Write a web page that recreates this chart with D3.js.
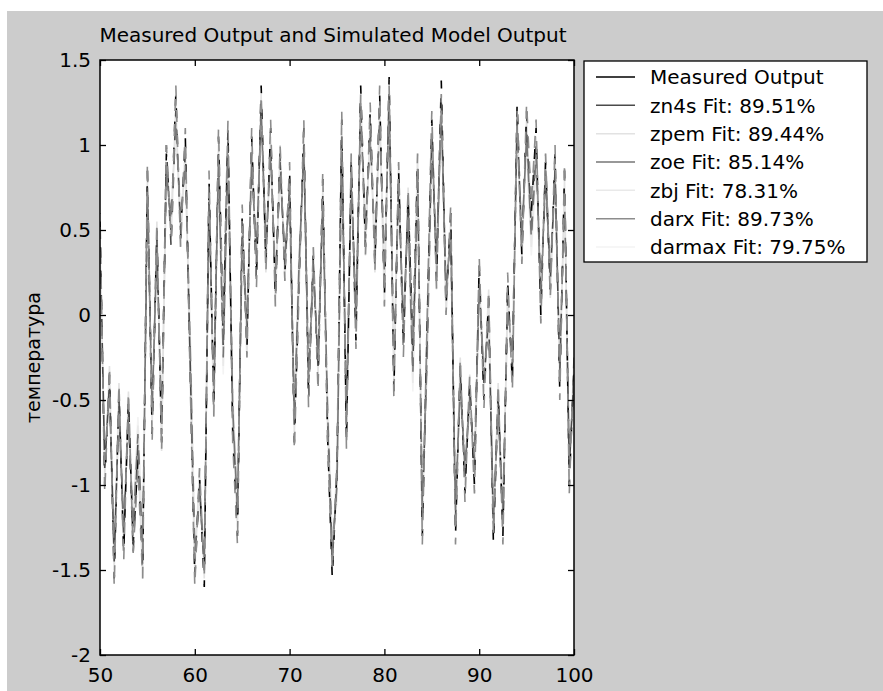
<!DOCTYPE html>
<html>
<head>
<meta charset="utf-8">
<script src="https://cdn.jsdelivr.net/npm/d3@7/dist/d3.min.js"></script>
<style>
  html, body { margin: 0; padding: 0; background: #ffffff; }
  svg { display: block; }
  text { font-family: "DejaVu Sans", sans-serif; fill: #000; }
</style>
</head>
<body>
<svg id="chart" width="883" height="691"></svg>
<script>
// Sample grid of the compared data set
const t0 = 50;
const dt = 0.5;

// Measured temperature
const measured = [
  0.55,-1.0,-0.35,-1.55,-0.45,-1.4,-0.5,-1.35,-0.85,-1.5,
  0.85,-0.7,0.5,-0.75,0.95,0.5,1.3,0.45,1.05,-0.3,
  -1.55,-0.95,-1.6,0.8,-0.55,1.05,-0.1,1.1,-0.7,-1.3,
  0.6,-0.2,1.05,0.2,1.35,0.3,1.1,0.1,0.95,0.25,
  0.85,-0.75,0.2,1.1,-0.5,0.35,-0.4,0.8,-0.7,-1.55,
  -0.9,1.15,-0.75,0.9,-0.15,1.35,0.4,1.2,0.3,1.3,
  0.1,1.4,-0.45,0.85,-0.2,0.7,-0.2,0.9,-1.3,-0.1,
  1.15,0.2,1.38,0.05,0.6,-1.3,-0.3,-1.05,-0.4,-1.0,
  0.3,-0.5,0.1,-1.35,-0.45,-1.3,0.2,-0.4,1.25,0.35,
  1.2,0.6,1.1,0.0,0.9,0.15,0.95,-0.45,0.85,-1.0,
  -0.3
];

// Simulated outputs of the identified models
const zn4s = [
  0.5,-0.9,-0.4,-1.45,-0.5,-1.3,-0.55,-1.4,-0.75,-1.45,
  0.75,-0.6,0.45,-0.7,1.0,0.4,1.2,0.5,0.95,-0.25,
  -1.45,-1.0,-1.5,0.7,-0.5,0.95,-0.2,1.0,-0.6,-1.2,
  0.5,-0.1,0.95,0.3,1.25,0.35,1.0,0.15,0.9,0.3,
  0.75,-0.65,0.25,1.0,-0.4,0.3,-0.3,0.7,-0.6,-1.45,
  -0.95,1.05,-0.65,0.85,-0.05,1.25,0.45,1.1,0.35,1.2,
  0.2,1.3,-0.35,0.8,-0.1,0.65,-0.3,0.85,-1.2,-0.2,
  1.05,0.3,1.25,0.1,0.5,-1.2,-0.35,-0.95,-0.45,-0.9,
  0.2,-0.4,0.0,-1.25,-0.5,-1.2,0.1,-0.3,1.15,0.4,
  1.1,0.5,1.0,0.1,0.85,0.2,0.85,-0.35,0.75,-0.9,
  -0.35
];
const zpem = [
  0.45,-0.95,-0.3,-1.5,-0.4,-1.35,-0.45,-1.3,-0.8,-1.55,
  0.8,-0.65,0.55,-0.8,0.9,0.45,1.25,0.4,1.0,-0.35,
  -1.5,-0.9,-1.55,0.75,-0.6,1.0,-0.05,1.05,-0.65,-1.25,
  0.55,-0.25,1.0,0.25,1.3,0.25,1.05,0.05,1.0,0.2,
  0.8,-0.7,0.15,1.05,-0.45,0.4,-0.35,0.75,-0.65,-1.5,
  -0.85,1.1,-0.7,0.95,-0.1,1.3,0.35,1.15,0.25,1.25,
  0.05,1.35,-0.4,0.9,-0.15,0.75,-0.25,0.95,-1.25,-0.05,
  1.1,0.15,1.3,0.0,0.55,-1.25,-0.25,-1.0,-0.35,-1.05,
  0.25,-0.45,0.15,-1.3,-0.4,-1.25,0.15,-0.35,1.2,0.3,
  1.15,0.55,1.05,-0.05,0.95,0.1,0.9,-0.4,0.8,-0.95,
  -0.25
];
const zoe = [
  0.4,-0.85,-0.45,-1.4,-0.55,-1.25,-0.6,-1.25,-0.7,-1.4,
  0.7,-0.55,0.4,-0.65,0.85,0.55,1.15,0.55,0.9,-0.15,
  -1.4,-1.05,-1.45,0.65,-0.45,0.9,-0.25,0.95,-0.55,-1.15,
  0.45,-0.05,0.9,0.35,1.2,0.4,0.95,0.2,0.85,0.35,
  0.7,-0.6,0.3,0.95,-0.35,0.25,-0.25,0.65,-0.55,-1.4,
  -1.0,1.0,-0.6,0.8,0.0,1.2,0.5,1.05,0.4,1.15,
  0.25,1.25,-0.3,0.75,-0.05,0.6,-0.35,0.8,-1.15,-0.25,
  1.0,0.35,1.2,0.15,0.45,-1.15,-0.4,-0.9,-0.5,-0.85,
  0.15,-0.35,-0.05,-1.2,-0.55,-1.15,0.05,-0.25,1.1,0.45,
  1.05,0.45,0.95,0.15,0.8,0.25,0.8,-0.3,0.7,-0.85,
  -0.4
];
const zbj = [
  0.35,-0.8,-0.5,-1.35,-0.6,-1.2,-0.65,-1.2,-0.65,-1.35,
  0.65,-0.5,0.35,-0.6,0.8,0.6,1.1,0.6,0.85,-0.1,
  -1.35,-1.1,-1.4,0.6,-0.4,0.85,-0.3,0.9,-0.5,-1.1,
  0.4,0.0,0.85,0.4,1.15,0.45,0.9,0.25,0.8,0.4,
  0.65,-0.55,0.35,0.9,-0.3,0.2,-0.2,0.6,-0.5,-1.35,
  -1.05,0.95,-0.55,0.75,0.05,1.15,0.55,1.0,0.45,1.1,
  0.3,1.2,-0.25,0.7,0.0,0.55,-0.4,0.75,-1.1,-0.3,
  0.95,0.4,1.15,0.2,0.4,-1.1,-0.45,-0.85,-0.55,-0.8,
  0.1,-0.3,-0.1,-1.15,-0.6,-1.1,0.0,-0.2,1.05,0.5,
  1.0,0.4,0.9,0.2,0.75,0.3,0.75,-0.25,0.65,-0.8,
  -0.45
];
const darx = [
  0.6,-1.05,-0.3,-1.6,-0.4,-1.45,-0.45,-1.4,-0.9,-1.55,
  0.9,-0.75,0.55,-0.8,1.0,0.45,1.35,0.4,1.1,-0.35,
  -1.6,-0.9,-1.55,0.85,-0.6,1.1,-0.05,1.15,-0.75,-1.35,
  0.65,-0.25,1.1,0.15,1.3,0.25,1.15,0.05,1.0,0.2,
  0.9,-0.8,0.15,1.15,-0.55,0.4,-0.45,0.85,-0.75,-1.5,
  -0.85,1.2,-0.8,0.95,-0.2,1.3,0.35,1.25,0.25,1.35,
  0.05,1.35,-0.5,0.9,-0.25,0.75,-0.15,0.95,-1.35,-0.05,
  1.2,0.15,1.3,0.0,0.65,-1.35,-0.25,-1.1,-0.35,-1.05,
  0.35,-0.55,0.15,-1.3,-0.4,-1.35,0.25,-0.45,1.2,0.3,
  1.25,0.65,1.15,-0.05,0.95,0.1,1.0,-0.5,0.9,-1.05,
  -0.25
];
const darmax = [
  0.3,-0.75,-0.55,-1.3,-0.65,-1.15,-0.7,-1.15,-0.6,-1.3,
  0.6,-0.45,0.3,-0.55,0.75,0.65,1.05,0.65,0.8,-0.05,
  -1.3,-1.15,-1.35,0.55,-0.35,0.8,-0.35,0.85,-0.45,-1.05,
  0.35,0.05,0.8,0.45,1.1,0.5,0.85,0.3,0.75,0.45,
  0.6,-0.5,0.4,0.85,-0.25,0.15,-0.15,0.55,-0.45,-1.3,
  -1.1,0.9,-0.5,0.7,0.1,1.1,0.6,0.95,0.5,1.05,
  0.35,1.15,-0.2,0.65,0.05,0.5,-0.45,0.7,-1.05,-0.35,
  0.9,0.45,1.1,0.25,0.35,-1.05,-0.5,-0.8,-0.6,-0.75,
  0.05,-0.25,-0.15,-1.1,-0.65,-1.05,-0.05,-0.15,1.0,0.55,
  0.95,0.35,0.85,0.25,0.7,0.35,0.7,-0.2,0.6,-0.75,
  -0.5
];

// Legend entries: names, fit percentages and line colours
const seriesNames = ["Measured Output", "zn4s", "zpem", "zoe", "zbj", "darx", "darmax"];
const fitValues = [null, 89.51, 89.44, 85.14, 78.31, 89.73, 79.75];
const seriesColors = ["#000000", "#4a4a4a", "#e2e2e2", "#767676", "#e9e9e9", "#8c8c8c", "#f3f3f3"];
const seriesData = [measured, zn4s, zpem, zoe, zbj, darx, darmax];
// broken-stroke look of the dense traces in the plot area
const seriesDash = ["10,16", "11,13", null, "14,12", null, "12,13", null];
const seriesDashOffset = [0, 7, 0, 3, 0, 11, 0];
// drawing order in the plot: pale traces underneath, measured data, grey model traces on top
const drawOrder = [6, 4, 2, 0, 1, 3, 5];

// Axis ticks
const xTicks = [50, 60, 70, 80, 90, 100];
const yTicks = [-2, -1.5, -1, -0.5, 0, 0.5, 1, 1.5];

const titleText = "Measured Output and Simulated Model Output";
const yLabelText = "температура";

const svg = d3.select("#chart");

// figure background
svg.append("rect").attr("x", 7).attr("y", 11).attr("width", 876).attr("height", 680)
  .attr("fill", "#cccccc");

const ax = { left: 100, right: 574, top: 60, bottom: 655 };

const x = d3.scaleLinear().domain([50, 100]).range([ax.left, ax.right]);
const y = d3.scaleLinear().domain([-2, 1.5]).range([ax.bottom, ax.top]);

// axes area
svg.append("rect").attr("x", ax.left).attr("y", ax.top)
  .attr("width", ax.right - ax.left).attr("height", ax.bottom - ax.top)
  .attr("fill", "#ffffff");

svg.append("clipPath").attr("id", "plotclip").append("rect")
  .attr("x", ax.left).attr("y", ax.top)
  .attr("width", ax.right - ax.left).attr("height", ax.bottom - ax.top);

const line = d3.line()
  .x((d, i) => x(t0 + i * dt))
  .y(d => y(d));

const plot = svg.append("g").attr("clip-path", "url(#plotclip)");
drawOrder.forEach(k => {
  const p = plot.append("path")
    .datum(seriesData[k])
    .attr("d", line)
    .attr("fill", "none")
    .attr("stroke", seriesColors[k])
    .attr("stroke-width", 1.6);
  if (seriesDash[k]) {
    p.attr("stroke-dasharray", seriesDash[k]).attr("stroke-dashoffset", seriesDashOffset[k]);
  }
});

// axes with inward ticks on all four sides
const fmt = d => String(d);
const gx = svg.append("g").attr("transform", `translate(0,${ax.bottom})`)
  .call(d3.axisBottom(x).tickValues(xTicks).tickSize(-6).tickPadding(13).tickFormat(fmt));
const gxTop = svg.append("g").attr("transform", `translate(0,${ax.top})`)
  .call(d3.axisTop(x).tickValues(xTicks).tickSize(-6).tickFormat(""));
const gy = svg.append("g").attr("transform", `translate(${ax.left},0)`)
  .call(d3.axisLeft(y).tickValues(yTicks).tickSize(-6).tickPadding(9).tickFormat(fmt));
const gyRight = svg.append("g").attr("transform", `translate(${ax.right},0)`)
  .call(d3.axisRight(y).tickValues(yTicks).tickSize(-6).tickFormat(""));

[gx, gxTop, gy, gyRight].forEach(g => {
  g.select(".domain").remove();
  g.selectAll(".tick line").attr("stroke", "#000").attr("stroke-width", 1.3);
  g.selectAll(".tick text").attr("font-size", 20).attr("font-family", "DejaVu Sans, sans-serif").attr("fill", "#000");
});
gx.selectAll(".tick text").attr("dy", "0.71em");

svg.append("rect").attr("x", ax.left).attr("y", ax.top)
  .attr("width", ax.right - ax.left).attr("height", ax.bottom - ax.top)
  .attr("fill", "none").attr("stroke", "#000").attr("stroke-width", 1.5);

// title
svg.append("text").attr("x", (ax.left + ax.right) / 2 - 4).attr("y", 42)
  .attr("text-anchor", "middle").attr("font-size", 20).text(titleText);

// y label
svg.append("text")
  .attr("transform", `translate(40,${(ax.top + ax.bottom) / 2}) rotate(-90)`)
  .attr("text-anchor", "middle").attr("font-size", 19).text(yLabelText);

// legend
const lg = { x: 584, y: 61, w: 283, h: 201, row: 28.33, first: 77 };
svg.append("rect").attr("x", lg.x).attr("y", lg.y).attr("width", lg.w).attr("height", lg.h)
  .attr("fill", "#ffffff").attr("stroke", "#000").attr("stroke-width", 1.3);
seriesNames.forEach((name, k) => {
  const cy = lg.first + k * lg.row;
  svg.append("line").attr("x1", 596).attr("x2", 635).attr("y1", cy).attr("y2", cy)
    .attr("stroke", seriesColors[k]).attr("stroke-width", 1.5);
  const label = fitValues[k] === null ? name : `${name} Fit: ${fitValues[k].toFixed(2)}%`;
  svg.append("text").attr("x", 650).attr("y", cy).attr("dy", "0.36em")
    .attr("font-size", 20).text(label);
});
</script>
</body>
</html>
